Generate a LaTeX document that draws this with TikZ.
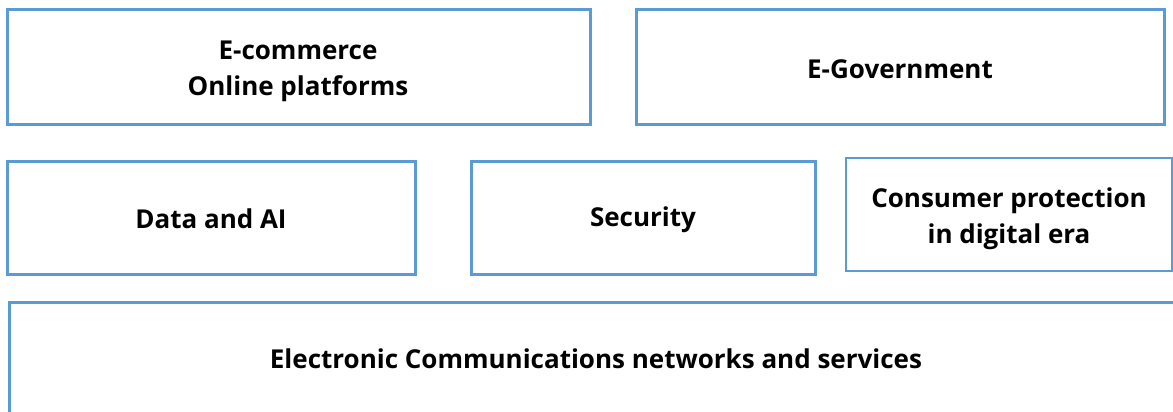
\documentclass[tikz,border=0pt]{standalone}
\usepackage{fontspec}
\setmainfont{Open Sans}
\definecolor{boxblue}{RGB}{91,155,213}
\begin{document}
\begin{tikzpicture}[x=1pt,y=-1pt,
  box/.style={draw=boxblue,line width=3pt},
  lbl/.style={font=\bfseries\fontsize{26}{36}\selectfont,align=center,text=black}]
\useasboundingbox (0,0) rectangle (1173,412);
\draw[box] (7,10) rectangle (590,124);
\draw[box] (636,10) rectangle (1164,124);
\draw[box] (7,161) rectangle (415,274);
\draw[box] (471,161) rectangle (815,274);
\draw[box,line width=2pt] (846,158) rectangle (1172,271);
\draw[box] (9,302) rectangle (1185,430);
\node[lbl] (ecom) at (298,71) {E-commerce\\Online platforms};
\node[lbl] (egov) at (900,69) {E-Government};
\node[lbl] (data) at (211,219) {Data and AI};
\node[lbl] (sec) at (643,220) {Security};
\node[lbl] (cons) at (1009,219) {Consumer protection\\in digital era};
\node[lbl] (ecn) at (596,359) {Electronic Communications networks and services};
\end{tikzpicture}
\end{document}
